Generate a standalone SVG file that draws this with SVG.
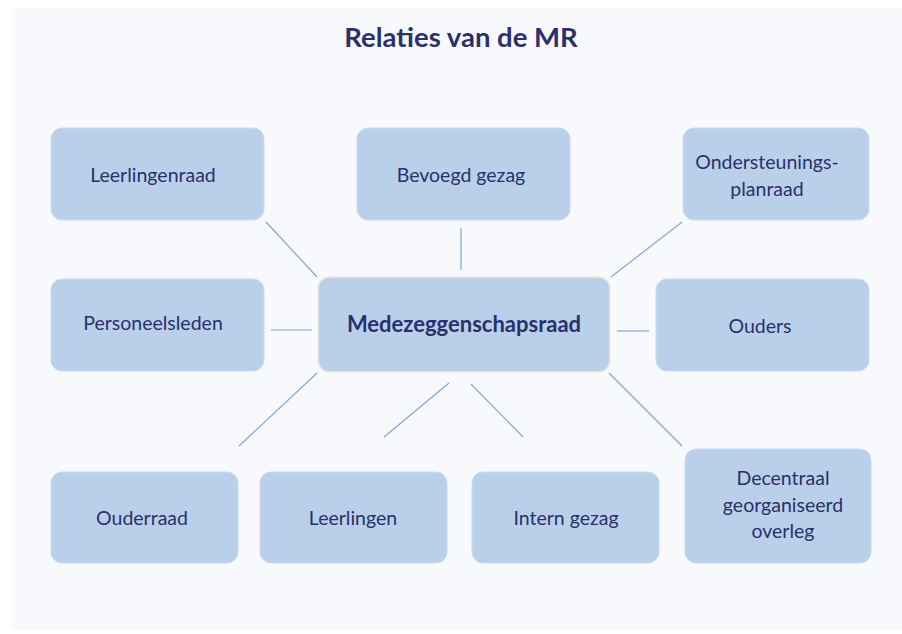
<svg xmlns="http://www.w3.org/2000/svg" width="902" height="634" viewBox="0 0 902 634">
<style>
.bg{fill:#ffffff}
.panel{fill:#f8f9fd}
.box{fill:#bad0ea;stroke:#c9daef;stroke-width:1}
.center{fill:#bad0ea;stroke:#f3ebdc;stroke-width:1.5}
.lbl{font-family:Lato,"Liberation Sans",sans-serif;font-size:19.5px;fill:#29306b;text-anchor:middle}
.bold{font-weight:bold;font-size:22px}
.title{font-family:Lato,"Liberation Sans",sans-serif;font-size:27.5px;font-weight:bold;fill:#29306b;text-anchor:middle}
.conn line{stroke:#7fa6dc;stroke-width:1.2}
</style>
<rect class="bg" x="0" y="0" width="902" height="634"/>
<rect class="panel" x="12" y="8" width="890" height="622"/>
<text class="title" x="461" y="47">Relaties van de MR</text>
<g id="connectors" class="conn">
<line x1="266" y1="222" x2="317" y2="277"/>
<line x1="271" y1="330" x2="312" y2="330"/>
<line x1="461" y1="228" x2="461" y2="270"/>
<line x1="682" y1="222" x2="611" y2="277"/>
<line x1="617" y1="331" x2="649" y2="331"/>
<line x1="317" y1="373" x2="239" y2="446"/>
<line x1="449" y1="383" x2="384" y2="437"/>
<line x1="471" y1="384" x2="523" y2="437"/>
<line x1="609" y1="373" x2="682" y2="446"/>
</g>
<g id="leerlingenraad"><rect class="box" x="51" y="128" width="213" height="92" rx="11"/><text class="lbl" x="153" y="182">Leerlingenraad</text></g>
<g id="bevoegd-gezag"><rect class="box" x="357" y="128" width="213" height="92" rx="11"/><text class="lbl" x="461" y="182">Bevoegd gezag</text></g>
<g id="ondersteuningsplanraad"><rect class="box" x="683" y="128" width="186" height="92" rx="11"/><text class="lbl" x="767" y="169">Ondersteunings-</text><text class="lbl" x="767" y="196">planraad</text></g>
<g id="personeelsleden"><rect class="box" x="51" y="279" width="213" height="92" rx="11"/><text class="lbl" x="153" y="330">Personeelsleden</text></g>
<g id="medezeggenschapsraad"><rect class="center" x="318" y="277" width="292" height="95" rx="11"/><text class="lbl bold" x="464" y="332">Medezeggenschapsraad</text></g>
<g id="ouders"><rect class="box" x="656" y="279" width="213" height="92" rx="11"/><text class="lbl" x="760" y="333">Ouders</text></g>
<g id="ouderraad"><rect class="box" x="51" y="472" width="187" height="91" rx="11"/><text class="lbl" x="142" y="525">Ouderraad</text></g>
<g id="leerlingen"><rect class="box" x="260" y="472" width="187" height="91" rx="11"/><text class="lbl" x="353" y="525">Leerlingen</text></g>
<g id="intern-gezag"><rect class="box" x="472" y="472" width="187" height="91" rx="11"/><text class="lbl" x="566" y="525">Intern gezag</text></g>
<g id="decentraal"><rect class="box" x="685" y="449" width="186" height="114" rx="11"/><text class="lbl" x="783" y="485">Decentraal</text><text class="lbl" x="783" y="512">georganiseerd</text><text class="lbl" x="783" y="538">overleg</text></g>
</svg>
